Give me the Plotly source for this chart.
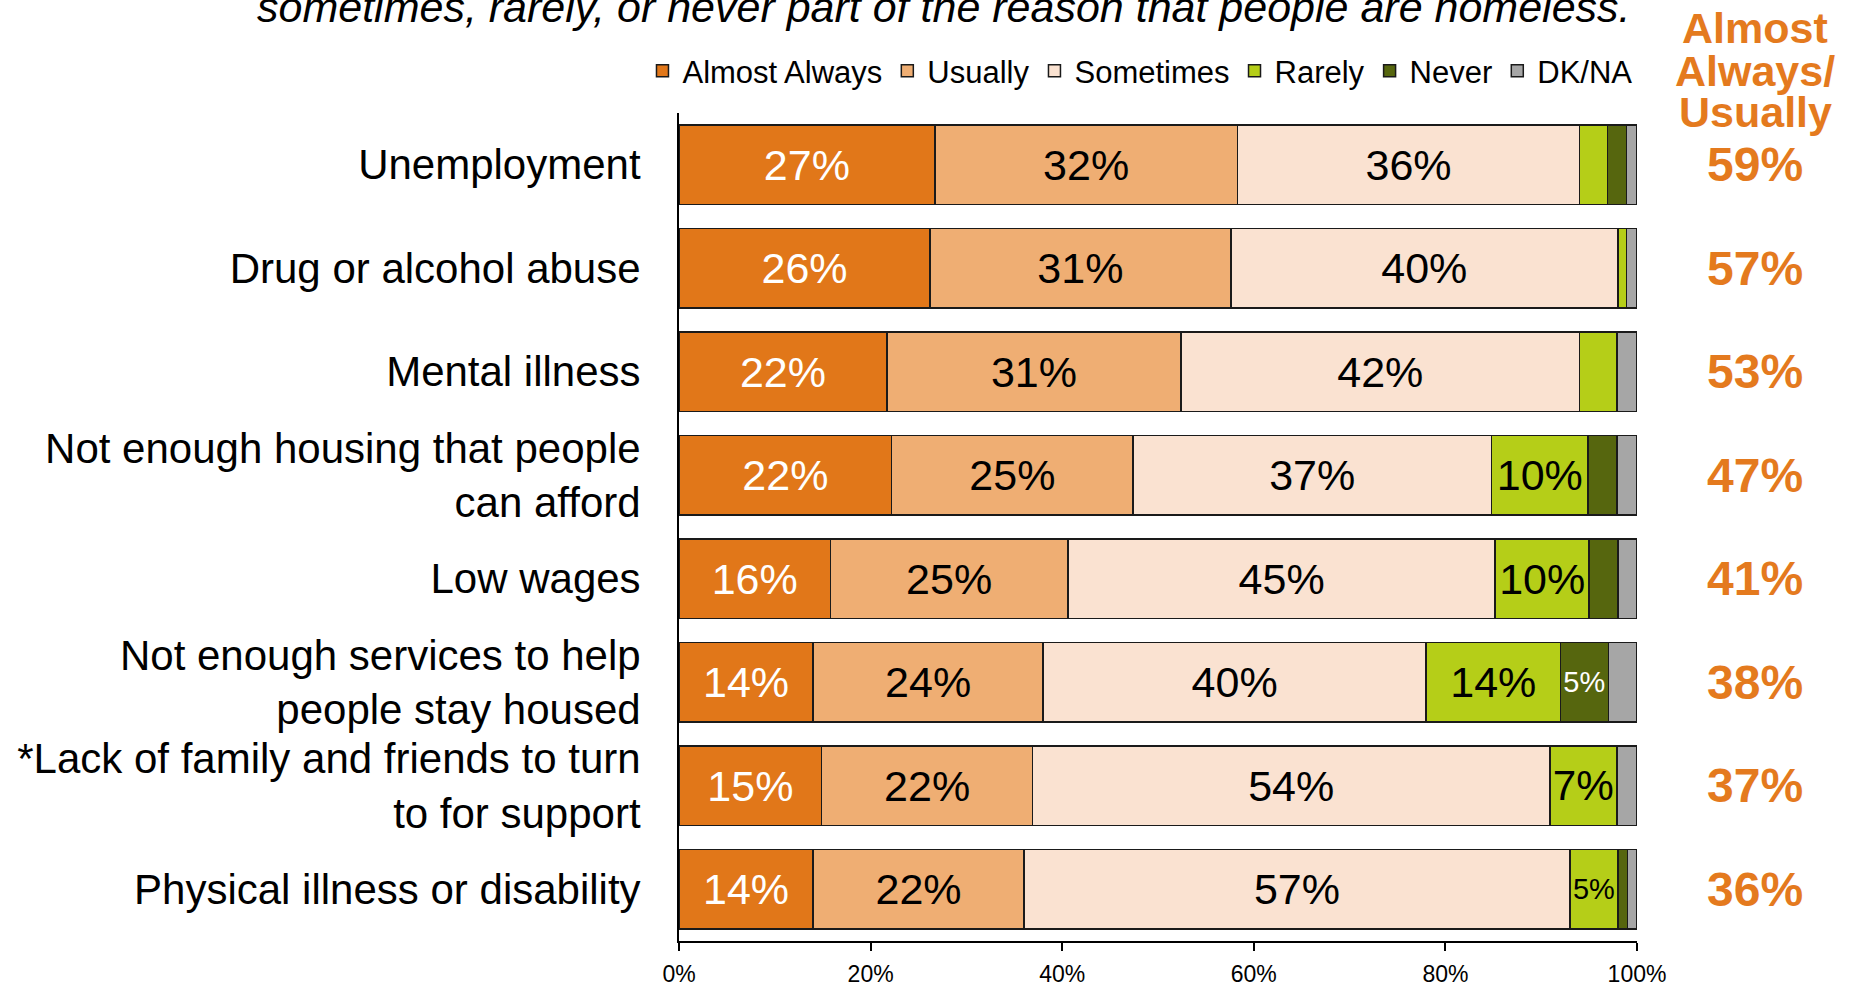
import plotly.graph_objects as go

categories = [
    "Unemployment",
    "Drug or alcohol abuse",
    "Mental illness",
    "Not enough housing that people<br>can afford",
    "Low wages",
    "Not enough services to help<br>people stay housed",
    "*Lack of family and friends to turn<br>to for support",
    "Physical illness or disability",
]
series_names = ["Almost Always", "Usually", "Sometimes", "Rarely", "Never", "DK/NA"]
almost_always = [26.7, 26.2, 21.7, 22.2, 15.8, 14.0, 14.9, 14.0]
usually = [31.6, 31.4, 30.7, 25.2, 24.8, 24.0, 22.0, 22.0]
sometimes = [35.7, 40.4, 41.6, 37.4, 44.6, 40.0, 54.0, 57.0]
rarely = [2.9, 0.9, 3.9, 10.1, 9.8, 14.0, 7.0, 5.0]
never = [2.0, 0.0, 0.0, 3.0, 3.0, 5.0, 0.0, 1.0]
dk_na = [1.1, 1.1, 2.1, 2.1, 2.0, 3.0, 2.1, 1.0]
always_usually = [59, 57, 53, 47, 41, 38, 37, 36]
x_tickvals = [0, 20, 40, 60, 80, 100]
x_ticktext = ["0%", "20%", "40%", "60%", "80%", "100%"]

series_values = [almost_always, usually, sometimes, rarely, never, dk_na]
colors = ["#E17719", "#EFAE73", "#FAE2D1", "#B5CE18", "#56660E", "#A6A6A6"]
text_colors = ["white", "black", "black", "black", "white", "black"]
show_labels = [True, True, True, True, True, False]

FONT = "Arial, Liberation Sans, sans-serif"
ORANGE = "#E47A1E"

# pixel geometry of plot area
L, R, T, B = 679, 1637, 113, 941
W, H = 1858, 986


def px_x(p):
    return (p - L) / (R - L)


def px_y(p):
    return (B - p) / (B - T)


fig = go.Figure()
for name, vals, col, tcol, show in zip(series_names, series_values, colors, text_colors, show_labels):
    texts = [f"{v:.0f}%" if (show and v >= 4.5) else "" for v in vals]
    fig.add_trace(go.Bar(
        name=name,
        y=categories,
        x=vals,
        orientation="h",
        marker=dict(color=col, line=dict(color="#1a1a1a", width=1.5)),
        text=texts,
        textposition="inside",
        insidetextanchor="middle",
        textangle=0,
        textfont=dict(family=FONT, size=43, color=tcol),
        hoverinfo="skip",
    ))

annotations = []
for cat, tot in zip(categories, always_usually):
    annotations.append(dict(
        x=px_x(1755), xref="paper", y=cat, yref="y",
        text=f"<b>{tot}%</b>", showarrow=False,
        font=dict(family=FONT, size=48, color=ORANGE),
        xanchor="center", yanchor="middle",
    ))
for line, py in zip(["Almost", "Always/", "Usually"], [28, 71, 112]):
    annotations.append(dict(
        x=px_x(1755), xref="paper", y=px_y(py), yref="paper",
        text=f"<b>{line}</b>", showarrow=False,
        font=dict(family=FONT, size=43, color=ORANGE),
        xanchor="center", yanchor="middle",
    ))
annotations.append(dict(
    x=px_x(1633), xref="paper", y=px_y(7), yref="paper",
    text="<i>sometimes, rarely, or never part of the reason that people are homeless.</i>",
    showarrow=False,
    font=dict(family=FONT, size=43, color="black"),
    xanchor="right", yanchor="middle",
))

fig.update_layout(
    barmode="stack",
    bargap=0.235,
    width=W, height=H,
    margin=dict(l=L, r=W - R, t=T, b=H - B, autoexpand=False),
    paper_bgcolor="white", plot_bgcolor="white",
    font=dict(family=FONT, color="black"),
    showlegend=True,
    legend=dict(
        orientation="h", xref="paper", x=1.0005, xanchor="right",
        yref="paper", y=px_y(71), yanchor="middle",
        font=dict(family=FONT, size=31, color="black"),
        itemwidth=30, traceorder="normal", bgcolor="rgba(0,0,0,0)",
        tracegroupgap=0,
    ),
    annotations=annotations,
)
fig.update_xaxes(
    range=[0, 100], tickvals=x_tickvals, ticktext=x_ticktext,
    showline=True, linecolor="black", linewidth=2,
    ticks="outside", ticklen=8, tickcolor="black", tickwidth=1.5,
    showgrid=False, zeroline=False,
    tickfont=dict(family=FONT, size=23, color="black"),
    ticklabelstandoff=3,
)
fig.update_yaxes(
    autorange="reversed",
    showline=True, linecolor="black", linewidth=2,
    ticks="", showgrid=False,
    tickfont=dict(family=FONT, size=42, color="black"),
    ticklabelstandoff=28,
)

fig.write_html(
    "out.html",
    config={"displayModeBar": False},
    post_script="document.body.style.margin='0';document.body.style.padding='0';document.body.style.overflow='hidden';",
)
